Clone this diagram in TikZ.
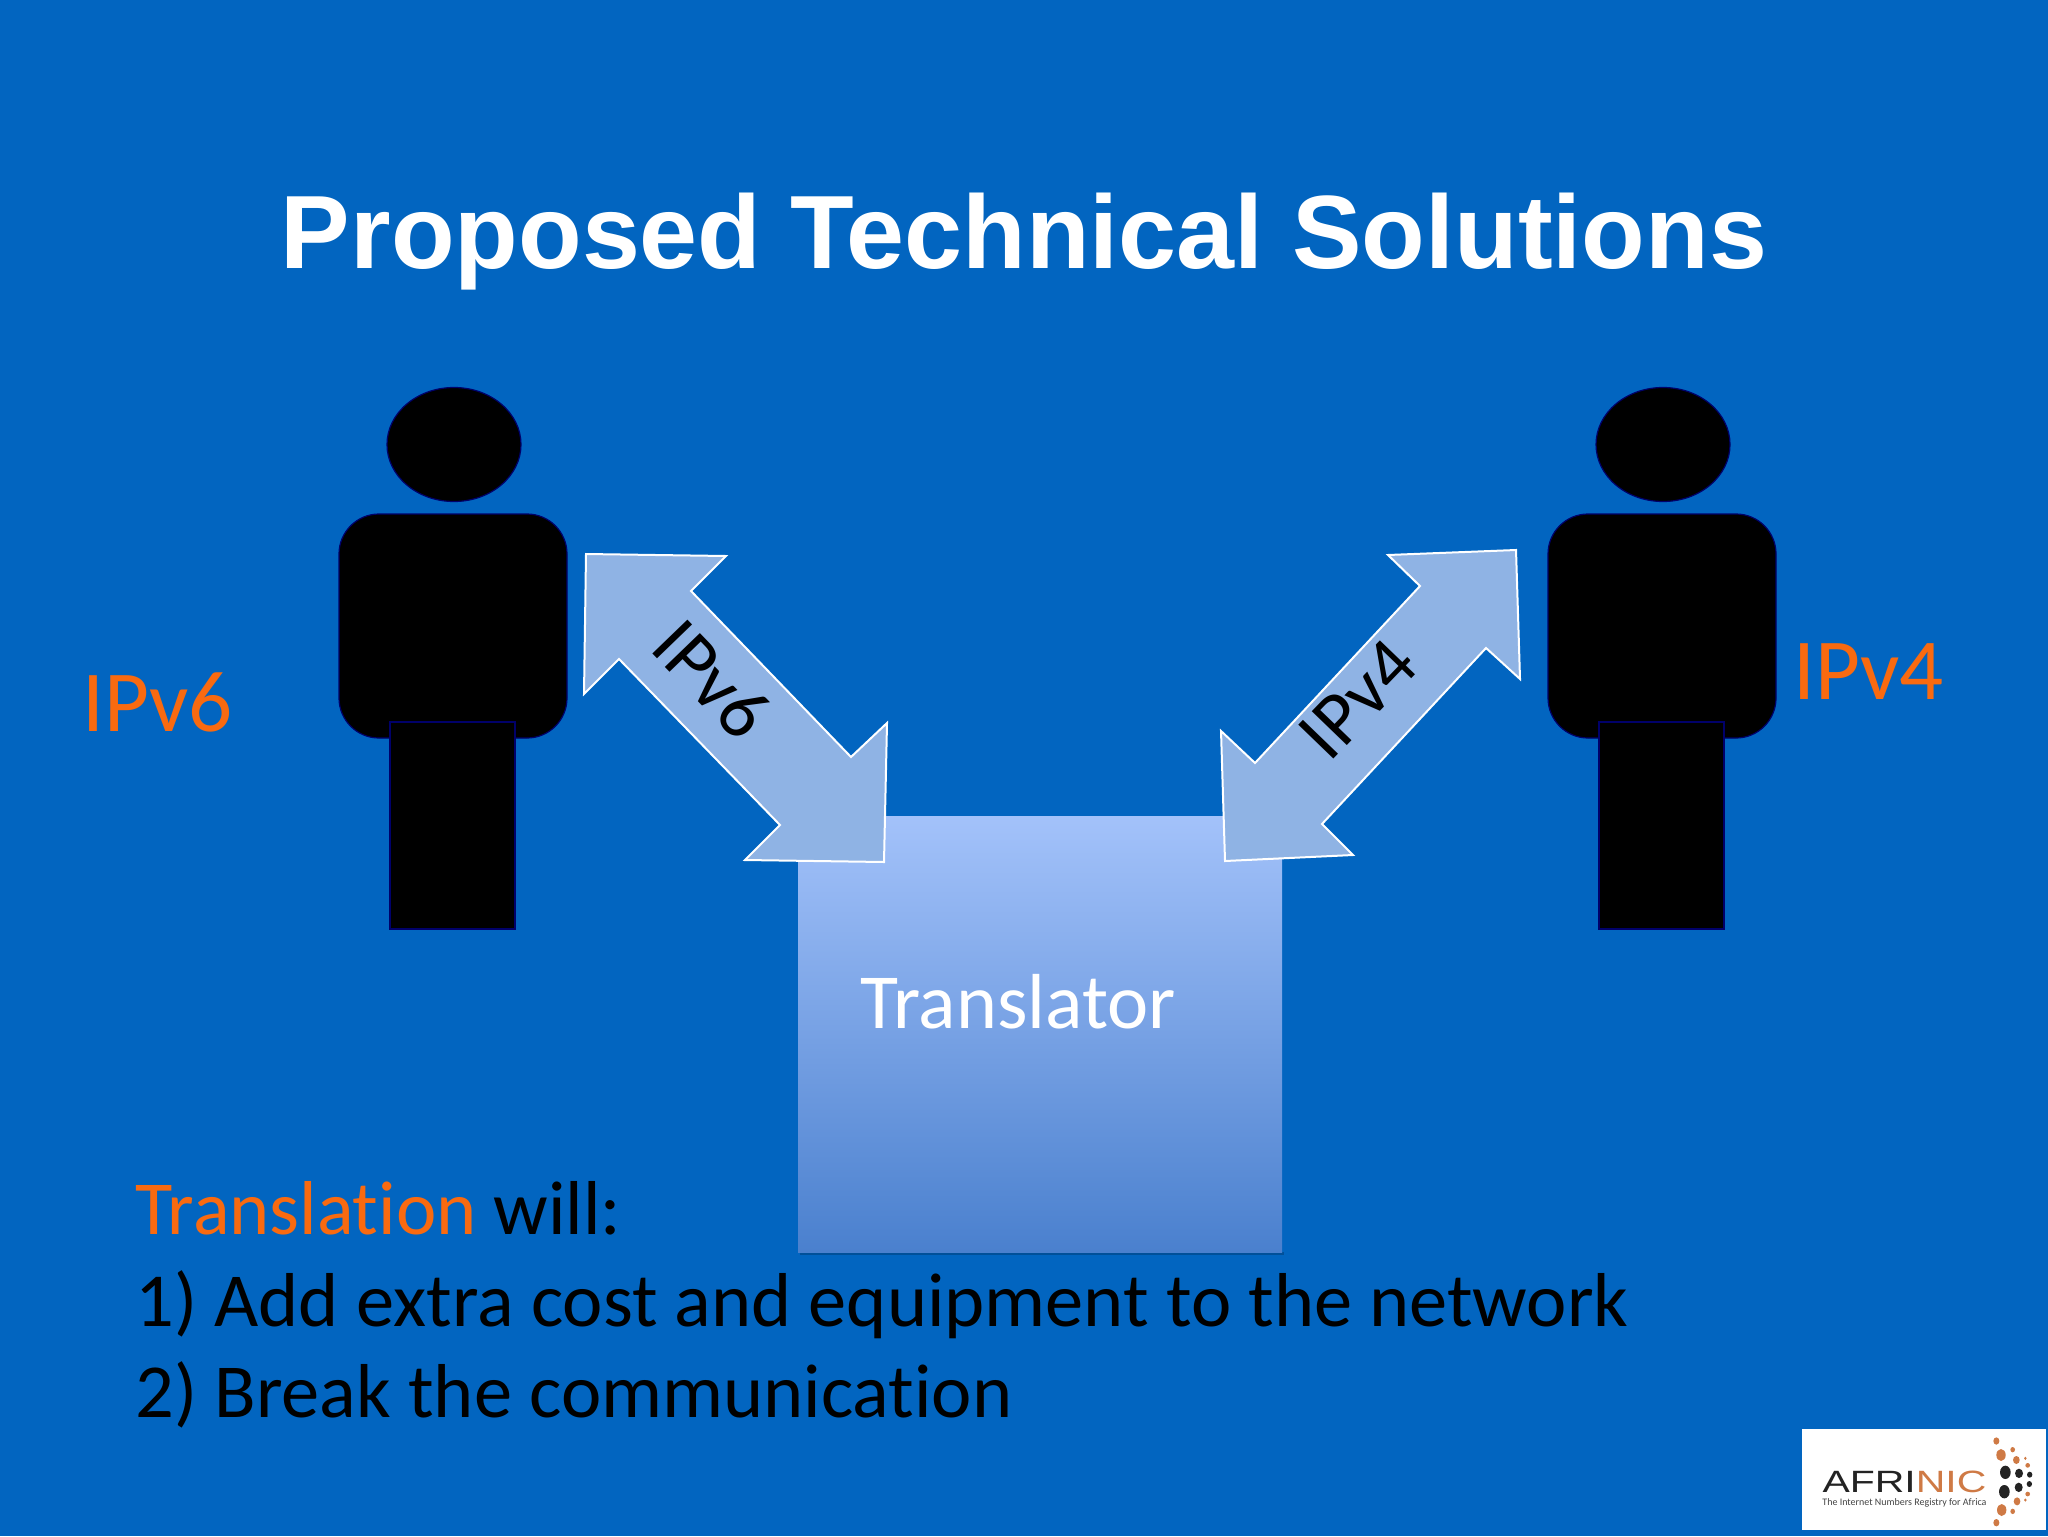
\documentclass[tikz,border=0pt]{standalone}
\usepackage{fontspec}
\setmainfont[Ligatures=NoCommon]{Carlito}
\newfontfamily\arialfont{Liberation Sans}
\definecolor{slidebg}{HTML}{0265C0}
\definecolor{orangetxt}{HTML}{F96A10}
\definecolor{arrowfill}{HTML}{8FB3E4}
\definecolor{boxtop}{HTML}{A3C2FA}
\definecolor{boxbot}{HTML}{4A80CE}
\definecolor{edgeblue}{HTML}{00006A}
\definecolor{logoorange}{HTML}{CF7A45}
\definecolor{logodark}{HTML}{232323}
\tikzset{
  body text/.style={inner sep=0pt,anchor=base west,font=\fontsize{38.2}{38.2}\selectfont},
  side label/.style={inner sep=0pt,anchor=base west,text=orangetxt,font=\fontsize{43.5}{43.5}\selectfont},
  arrow label/.style={inner sep=0pt,font=\fontsize{38}{38}\selectfont},
  person/.style={fill=black,draw=edgeblue,line width=0.6pt},
  bigarrow/.style={fill=arrowfill,draw=white,line width=1pt,line join=miter},
  orangedot/.style={fill=logoorange,draw=none},
  blackdot/.style={fill=logodark,draw=none}
}
\begin{document}
\begin{tikzpicture}[x=0.5pt,y=-0.5pt]
\useasboundingbox (0,0) rectangle (2048,1536);
\fill[slidebg] (0,0) rectangle (2048,1536);
\node[inner sep=0pt,anchor=base,text=white,font=\arialfont\bfseries\fontsize{52.1}{52.1}\selectfont] (title) at (1024,268) {Proposed Technical Solutions};
% people
\foreach \d/\n in {0/a,1209/b}{
  \begin{scope}[xshift=\d*0.5pt]
  \draw[person] (454,444.5) ellipse [x radius=67,y radius=57];
  \draw[person,rounded corners=20pt] (339,514) rectangle (567,738);
  \draw[person] (390,722) rectangle (515,929);
  \end{scope}
}
% translator
\fill[black,opacity=.2] (800,1252) rectangle (1284,1255);
\shade[top color=boxtop,bottom color=boxbot,draw=none] (798,816) rectangle (1282,1252);
\node[inner sep=0pt,anchor=base,text=white,font=\fontsize{39}{39}\selectfont] (translator) at (1018,1028) {Translator};
% arrows
\draw[bigarrow] (586,554) -- (726,556) -- (691,591) -- (851,757) -- (887,723) -- (884,862) -- (745,860) -- (780,825) -- (619,659) -- (584,694) -- cycle;
\draw[bigarrow] (1516,550) -- (1388,555) -- (1420,586) -- (1255,763) -- (1221,731) -- (1225,861) -- (1353,855) -- (1322,824) -- (1486,648) -- (1520,679) -- cycle;
\node[arrow label,rotate=-46] (lv6) at (712,679) {IPv6};
\node[arrow label,rotate=46] (lv4) at (1358,699) {IPv4};
% labels
\node[side label] (ipvsix) at (82,731) {IPv6};
\node[side label] (ipvfour) at (1793,699) {IPv4};
\node[body text] (l1) at (135,1234) {\textcolor{orangetxt}{Translation} will:};
\node[body text] (l2) at (135,1326) {1) Add extra cost and equipment to the network};
\node[body text] (l3) at (135,1417) {2) Break the communication};
% logo
\fill[white] (1802,1429) rectangle (2046,1530);
\node[inner sep=0pt,anchor=base west,font=\arialfont\fontsize{15.4}{15.4}\selectfont,xscale=1.33,transform shape] (afrinic) at (1822,1492) {\textcolor{logodark}{AFRI}\textcolor{logoorange}{NIC}};
\node[inner sep=0pt,anchor=base west,text=logodark!85,font=\fontsize{5}{5}\selectfont] (tagline) at (1822,1505) {The Internet Numbers Registry for Africa};
\begin{scope}[shift={(1780,1410)},x=0.16667pt,y=-0.16667pt]
\foreach \cx/\cy/\rx/\ry in {649/93/9/11,663/135/14/18,698/119/7/8,709/150/10/12,736/145/4/5,743/166/7/7,649/338/9/11,665/300/14/18,698/304/7/8,711/274/10/12,736/270/4/5,743/252/7/7}
  \fill[orangedot] (\cx,\cy) ellipse [x radius=\rx,y radius=\ry];
\foreach \cx/\cy/\rx/\ry in {676/187/16/20,673/245/16/20,717/190/12/14,716/232/12/14,749/194/8/9,748/222/8/9}
  \fill[blackdot] (\cx,\cy) ellipse [x radius=\rx,y radius=\ry];
\end{scope}
\end{tikzpicture}
\end{document}
